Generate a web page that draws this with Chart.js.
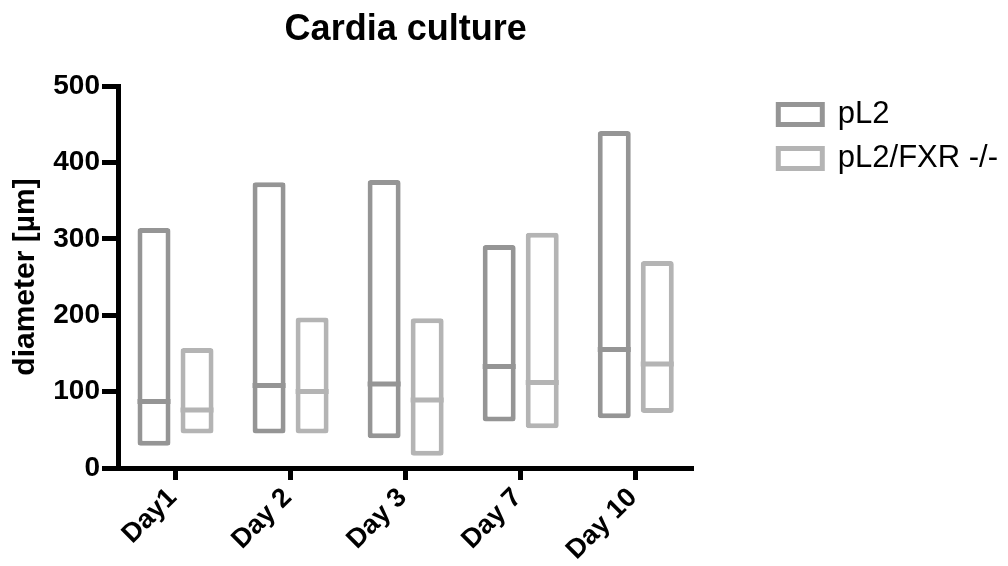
<!DOCTYPE html>
<html lang="en">
<head>
    <meta charset="UTF-8">
    <title>Cardia culture</title>
    <script src="https://cdn.jsdelivr.net/npm/chart.js"></script>
    <style>
        body {
            margin: 0;
            background-color: #ffffff;
        }
        .chart-wrap {
            width: 1008px;
            height: 566px;
        }
    </style>
</head>
<body>
    <div class="chart-wrap">
        <canvas id="cultureChart"></canvas>
    </div>

    <script>
        // values (min / max / median, µm)
        const days = ['Day1', 'Day 2', 'Day 3', 'Day 7', 'Day 10'];
        const pl2Min = [29, 45, 39, 61, 65];
        const pl2Max = [314, 374, 377, 292, 441];
        const pl2Median = [87, 108, 110, 133, 155];
        const fxrMin = [45, 45, 16, 52, 72];
        const fxrMax = [157, 197, 196, 308, 271];
        const fxrMedian = [76, 100, 89, 112, 136];

        const darkGrey = '#959595';
        const lightGrey = '#b4b4b4';

        Chart.defaults.font.family = "'Liberation Sans', Arial, sans-serif";
        Chart.defaults.color = '#000';

        // horizontal median line through each floating bar
        const medianLines = {
            id: 'medianLines',
            afterDatasetsDraw(chart) {
                const ctx = chart.ctx;
                const yScale = chart.scales.y;
                chart.data.datasets.forEach((ds, i) => {
                    const meta = chart.getDatasetMeta(i);
                    meta.data.forEach((bar, j) => {
                        const { x, width } = bar.getProps(['x', 'width'], true);
                        const y = yScale.getPixelForValue(ds.medians[j]);
                        ctx.save();
                        ctx.strokeStyle = ds.borderColor;
                        ctx.lineWidth = 5;
                        ctx.beginPath();
                        ctx.moveTo(x - width / 2, y);
                        ctx.lineTo(x + width / 2, y);
                        ctx.stroke();
                        ctx.restore();
                    });
                });
            }
        };

        new Chart(document.getElementById('cultureChart'), {
            type: 'bar',
            data: {
                labels: days,
                datasets: [{
                    label: 'pL2',
                    data: pl2Min.map((v, i) => [v, pl2Max[i]]),
                    medians: pl2Median,
                    backgroundColor: '#ffffff',
                    borderColor: darkGrey,
                    borderWidth: 5,
                    borderRadius: 3,
                    borderSkipped: false
                }, {
                    label: 'pL2/FXR -/-',
                    data: fxrMin.map((v, i) => [v, fxrMax[i]]),
                    medians: fxrMedian,
                    backgroundColor: '#ffffff',
                    borderColor: lightGrey,
                    borderWidth: 5,
                    borderRadius: 3,
                    borderSkipped: false
                }]
            },
            options: {
                responsive: true,
                maintainAspectRatio: false,
                animation: false,
                layout: { padding: 0 },
                datasets: {
                    bar: {
                        categoryPercentage: 0.748,
                        barPercentage: 0.767
                    }
                },
                plugins: {
                    title: {
                        display: true,
                        text: 'Cardia culture',
                        fullSize: false,
                        color: '#000',
                        font: { size: 36, weight: 'bold' },
                        padding: { top: 8, bottom: 34.8 }
                    },
                    legend: {
                        position: 'right',
                        align: 'start',
                        fullSize: false,
                        maxWidth: 270,
                        labels: {
                            boxWidth: 44,
                            boxHeight: 20,
                            padding: 13,
                            color: '#000',
                            font: { size: 31 }
                        }
                    },
                    tooltip: { enabled: false }
                },
                scales: {
                    x: {
                        grid: {
                            offset: false,
                            drawOnChartArea: false,
                            tickLength: 12,
                            tickWidth: 5,
                            tickColor: '#000'
                        },
                        border: { color: '#000', width: 5 },
                        ticks: {
                            minRotation: 45,
                            maxRotation: 45,
                            padding: 2,
                            labelOffset: -3,
                            color: '#000',
                            font: { size: 27, weight: 'bold' }
                        },
                        afterFit: scale => { scale.height = 98; }
                    },
                    y: {
                        min: 0,
                        max: 500,
                        grid: {
                            drawOnChartArea: false,
                            tickLength: 16,
                            tickWidth: 5,
                            tickColor: '#000'
                        },
                        border: { color: '#000', width: 5 },
                        ticks: {
                            stepSize: 100,
                            padding: 2,
                            color: '#000',
                            font: { size: 28, weight: 'bold' }
                        },
                        title: {
                            display: true,
                            text: 'diameter [µm]',
                            color: '#000',
                            font: { size: 30, weight: 'bold' },
                            padding: { top: 8, bottom: 0 }
                        },
                        afterFit: scale => { scale.width = 118; }
                    },
                    // empty spacer so the plot stops short of the legend
                    gap: {
                        type: 'linear',
                        position: 'right',
                        grid: { display: false },
                        border: { display: false },
                        ticks: { display: false },
                        afterFit: scale => { scale.width = 72; }
                    }
                }
            },
            plugins: [medianLines]
        });
    </script>
</body>
</html>
